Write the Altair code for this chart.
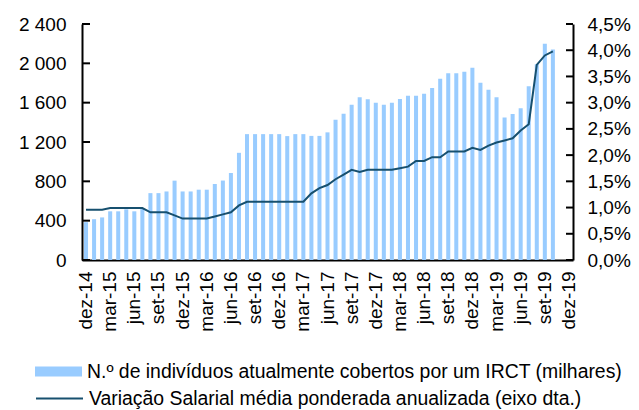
import altair as alt
import pandas as pd

# ---------------- data ----------------
month_names = ["jan", "fev", "mar", "abr", "mai", "jun", "jul", "ago", "set", "out", "nov", "dez"]
months = ["dez-14"] + [f"{m}-{y}" for y in range(15, 20) for m in month_names]  # dez-14 .. dez-19
quarter_labels = months[::3]

# N.º de indivíduos cobertos por um IRCT (milhares), dez-14 .. out-19
workers = [
    385, 415, 433, 495, 495, 515, 495, 519, 680, 680, 697, 807,
    697, 697, 715, 715, 773, 808, 885, 1090, 1280, 1280, 1280, 1280,
    1280, 1260, 1280, 1280, 1262, 1262, 1298, 1427, 1487, 1580, 1654, 1635,
    1598, 1580, 1598, 1637, 1671, 1671, 1691, 1749, 1842, 1900, 1900, 1915,
    1955, 1803, 1731, 1654, 1448, 1485, 1542, 1766, 1990, 2200, 2140,
]

# Variação salarial média ponderada anualizada (%), dez-14 .. out-19
wage_growth = [
    0.96, 0.96, 0.96, 0.99, 0.99, 0.99, 0.99, 0.99, 0.91, 0.91, 0.91, 0.85,
    0.79, 0.79, 0.79, 0.79, 0.83, 0.87, 0.91, 1.04, 1.11, 1.11, 1.11, 1.11,
    1.11, 1.11, 1.11, 1.11, 1.27, 1.37, 1.43, 1.54, 1.63, 1.72, 1.68, 1.72,
    1.72, 1.72, 1.72, 1.75, 1.78, 1.89, 1.89, 1.96, 1.96, 2.07, 2.07, 2.07,
    2.14, 2.10, 2.18, 2.24, 2.28, 2.32, 2.47, 2.59, 3.72, 3.90, 3.98,
]

left_ticks = [0, 400, 800, 1200, 1600, 2000, 2400]
right_ticks = [0, 0.005, 0.01, 0.015, 0.02, 0.025, 0.03, 0.035, 0.04, 0.045]

bar_label = "N.º de indivíduos atualmente cobertos por um IRCT (milhares)"
line_label = "Variação Salarial média ponderada anualizada (eixo dta.)"

n = len(workers)
df = pd.DataFrame({
    "month": months[:n],
    "workers": workers,
    "wage": [v / 100 for v in wage_growth],
    "s_bar": [bar_label] * n,
    "s_line": [line_label] * n,
})
df_lt = pd.DataFrame({"v": left_ticks})
df_rt = pd.DataFrame({"v": right_ticks})

# ---------------- style ----------------
FONT = "Liberation Sans"
BAR = "#99CCFF"
LINE = "#17506F"
W, H = 491, 236
FS = 19
LFS = 19.4

x_enc = alt.X(
    "month:N",
    scale=alt.Scale(domain=months, paddingInner=0.5, paddingOuter=0.25),
    axis=alt.Axis(
        values=quarter_labels, labelAngle=270, labelAlign="right", labelBaseline="middle",
        labelPadding=11, ticks=False, domainColor="black", domainWidth=2,
        labelFontSize=FS, labelFont=FONT, labelColor="black", title=None, grid=False,
    ),
)

left_scale = alt.Scale(domain=[0, 2400], nice=False, zero=True)
right_scale = alt.Scale(domain=[0, 0.045], nice=False, zero=True)

bars = alt.Chart(df).mark_bar().encode(
    x=x_enc,
    y=alt.Y(
        "workers:Q", scale=left_scale,
        axis=alt.Axis(
            orient="left", values=left_ticks, title=None, grid=False, ticks=False,
            labelExpr="replace(format(datum.value, ',.0f'), ',', ' ')",
            labelPadding=16, labelFontSize=FS, labelFont=FONT, labelColor="black",
            domainColor="black", domainWidth=2,
        ),
    ),
    color=alt.Color(
        "s_bar:N", scale=alt.Scale(range=[BAR]),
        legend=alt.Legend(
            title=None, orient="none", legendX=-47, legendY=324,
            symbolType="M-1,-0.21H1V0.21H-1Z", symbolSize=2209, symbolStrokeWidth=0,
            symbolOpacity=1, labelFontSize=LFS, labelFont=FONT, labelColor="black",
            labelLimit=900, labelOffset=5, padding=0,
        ),
    ),
)

left_tick_marks = alt.Chart(df_lt).mark_rule(color="black", strokeWidth=2).encode(
    y=alt.Y("v:Q", scale=left_scale, axis=None),
    x=alt.value(0),
    x2=alt.value(8),
)

line = alt.Chart(df).mark_line(strokeWidth=2).encode(
    x=x_enc,
    y=alt.Y(
        "wage:Q", scale=right_scale,
        axis=alt.Axis(
            orient="right", values=right_ticks, title=None, grid=False, ticks=False,
            labelExpr="replace(format(datum.value, '.1%'), '.', ',')",
            labelPadding=14, labelFontSize=FS, labelFont=FONT, labelColor="black",
            domainColor="black", domainWidth=2,
        ),
    ),
    stroke=alt.Stroke(
        "s_line:N", scale=alt.Scale(range=[LINE]),
        legend=alt.Legend(
            title=None, orient="none", legendX=-47, legendY=350,
            symbolType="stroke", symbolSize=2209, symbolStrokeWidth=2,
            labelFontSize=LFS, labelFont=FONT, labelColor="black",
            labelLimit=900, labelOffset=5, padding=0,
        ),
    ),
)

right_tick_marks = alt.Chart(df_rt).mark_rule(color="black", strokeWidth=2).encode(
    y=alt.Y("v:Q", scale=right_scale, axis=None),
    x=alt.value(W - 7),
    x2=alt.value(W),
)

chart = (
    alt.layer(bars, left_tick_marks, line, right_tick_marks)
    .resolve_scale(y="independent", color="independent", stroke="independent")
    .properties(
        width=W, height=H,
        autosize=alt.AutoSizeParams(type="none"),
        padding={"left": 74, "top": 16, "right": 58, "bottom": 150},
        background="white",
    )
    .configure_view(stroke=None)
)

chart.save("out.html", embed_options={"renderer": "svg", "actions": False})
